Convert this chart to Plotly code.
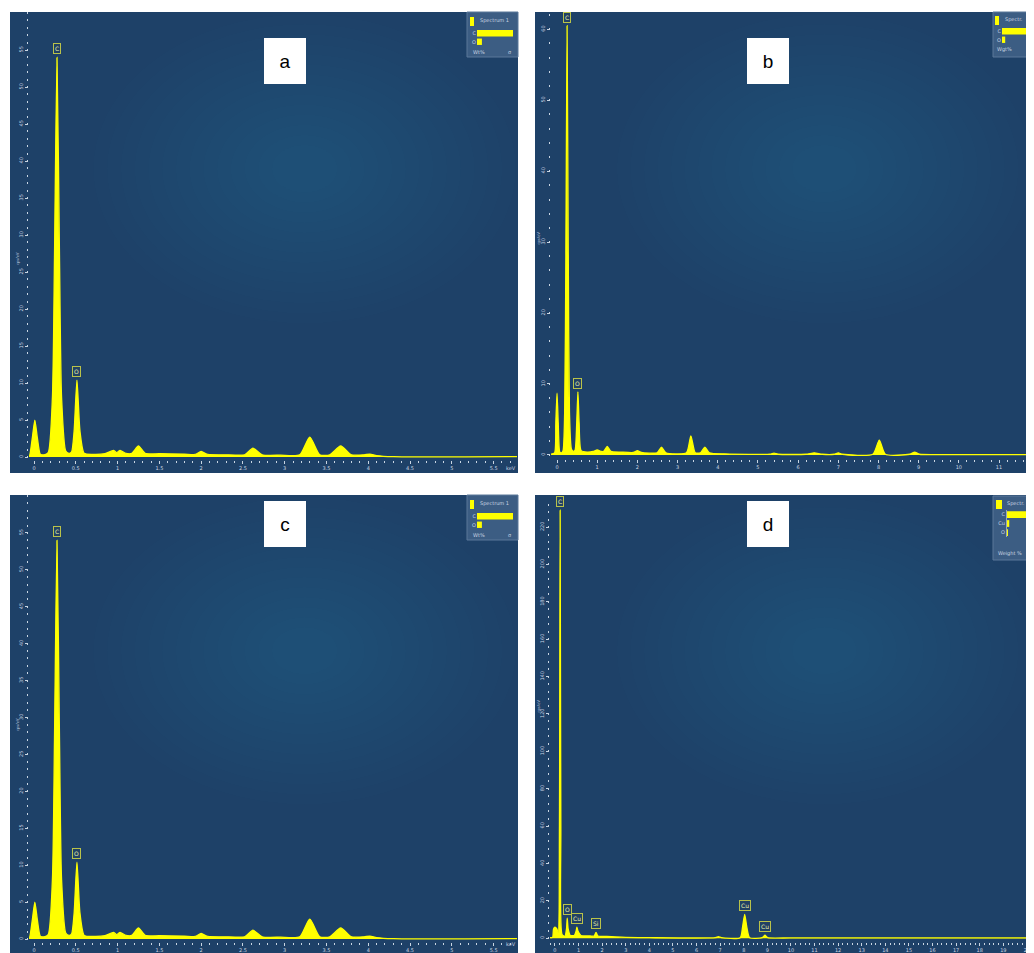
import plotly.graph_objects as go

# page offset (body margin) is 8 px; figure size chosen so page fills 1034x953
OFF = 8
W, H = 1034 - OFF, 953 - OFF

# ---------------- data ----------------
# Spectrum a  (keV, cps/eV)
a_keV = [-0.06, -0.05, -0.02, 0.01, 0.04, 0.075, 0.12, 0.17, 0.22, 0.245, 0.275, 0.305, 0.33, 0.38,
         0.42, 0.45, 0.48, 0.514, 0.55, 0.6, 0.7, 0.85, 0.95, 0.99, 1.03, 1.1, 1.17, 1.25, 1.33,
         1.5, 1.8, 1.93, 2.0, 2.08, 2.3, 2.52, 2.62, 2.73, 2.95, 3.18, 3.3, 3.42, 3.54, 3.67, 3.8,
         3.95, 4.02, 4.1, 4.3, 5.78]
a_cps = [0.1, 0.3, 2.6, 5.0, 2.6, 0.4, 0.3, 0.6, 8.0, 27.0, 54.0, 27.0, 8.0, 0.8,
         0.5, 0.7, 3.5, 10.4, 3.5, 0.5, 0.35, 0.45, 0.9, 0.6, 0.9, 0.5, 0.5, 1.5, 0.5,
         0.45, 0.4, 0.35, 0.75, 0.35, 0.3, 0.3, 1.2, 0.3, 0.25, 0.3, 2.7, 0.3, 0.3, 1.5, 0.3,
         0.3, 0.4, 0.2, 0.05, 0.05]

# Spectrum c (nearly identical to a)
c_keV = [-0.06, -0.05, -0.02, 0.01, 0.04, 0.075, 0.12, 0.17, 0.22, 0.245, 0.275, 0.305, 0.33, 0.38,
         0.42, 0.45, 0.48, 0.514, 0.55, 0.6, 0.7, 0.85, 0.95, 0.99, 1.03, 1.1, 1.17, 1.25, 1.33,
         1.5, 1.8, 1.93, 2.0, 2.08, 2.3, 2.52, 2.62, 2.73, 2.95, 3.18, 3.3, 3.42, 3.54, 3.67, 3.8,
         3.95, 4.02, 4.1, 4.3, 5.78]
c_cps = [0.1, 0.3, 2.6, 5.0, 2.6, 0.4, 0.3, 0.6, 8.0, 27.0, 54.0, 27.0, 8.0, 0.8,
         0.5, 0.7, 3.5, 10.4, 3.5, 0.5, 0.35, 0.45, 0.9, 0.6, 0.9, 0.5, 0.5, 1.5, 0.5,
         0.45, 0.4, 0.35, 0.75, 0.35, 0.3, 0.3, 1.2, 0.3, 0.25, 0.3, 2.7, 0.3, 0.3, 1.5, 0.3,
         0.3, 0.4, 0.2, 0.05, 0.05]

# Spectrum b
b_keV = [-0.15, -0.06, -0.03, 0.0, 0.03, 0.07, 0.11, 0.15, 0.19, 0.22, 0.25, 0.28, 0.31, 0.36,
         0.41, 0.45, 0.49, 0.52, 0.55, 0.6, 0.75, 0.9, 1.0, 1.1, 1.16, 1.25, 1.34, 1.6, 1.9,
         2.0, 2.1, 2.49, 2.6, 2.71, 3.22, 3.33, 3.44, 3.57, 3.68, 3.79, 4.2, 5.3, 5.4, 5.5,
         6.2, 6.4, 6.6, 6.9, 7.0, 7.1, 7.86, 8.02, 8.17, 8.78, 8.9, 9.02, 9.5, 11.87]
b_cps = [0.1, 0.3, 4.5, 8.7, 4.5, 0.4, 0.3, 0.6, 6.0, 28.0, 60.5, 28.0, 6.0, 0.8,
         0.5, 0.7, 4.5, 8.9, 4.5, 0.6, 0.4, 0.5, 0.7, 0.5, 0.5, 1.2, 0.5, 0.4, 0.35,
         0.6, 0.35, 0.3, 1.1, 0.3, 0.3, 2.7, 0.3, 0.3, 1.1, 0.3, 0.15, 0.1, 0.25, 0.1,
         0.1, 0.3, 0.1, 0.1, 0.3, 0.1, 0.1, 2.1, 0.1, 0.1, 0.4, 0.1, 0.05, 0.05]

# Spectrum d
d_keV = [-0.21, -0.1, -0.06, 0.0, 0.08, 0.14, 0.19, 0.22, 0.25, 0.3, 0.42, 0.49, 0.52, 0.56,
         0.65, 0.82, 0.9, 0.93, 0.97, 1.1, 1.5, 1.66, 1.74, 1.82, 2.2, 2.6, 3.0, 4.0, 6.8,
         6.93, 7.05, 7.85, 7.95, 8.04, 8.13, 8.25, 8.78, 8.9, 9.02, 10.0, 20.3]
d_cps = [0.3, 0.5, 5.0, 6.0, 5.0, 3.0, 60.0, 229.0, 60.0, 2.0, 1.0, 5.0, 10.7, 5.0,
         1.5, 1.5, 4.0, 5.9, 4.0, 1.5, 1.2, 1.2, 3.2, 1.2, 1.0, 0.7, 0.5, 0.3, 0.3,
         0.8, 0.3, 0.3, 6.0, 12.8, 6.0, 0.3, 0.3, 1.6, 0.3, 0.2, 0.2]

# peak labels
a_peak_names = ["C", "O"]
a_peak_keV = [0.275, 0.514]
a_peak_cps = [54.0, 10.4]
b_peak_names = ["C", "O"]
b_peak_keV = [0.25, 0.52]
b_peak_cps = [60.5, 8.9]
c_peak_names = ["C", "O"]
c_peak_keV = [0.275, 0.514]
c_peak_cps = [54.0, 10.4]
d_peak_names = ["C", "O", "Cu", "Si", "Cu", "Cu"]
d_peak_keV = [0.22, 0.52, 0.93, 1.74, 8.04, 8.9]
d_peak_cps = [229.0, 10.7, 5.9, 3.2, 12.8, 1.6]

# axis ticks
a_x_ticks = [0, 0.5, 1, 1.5, 2, 2.5, 3, 3.5, 4, 4.5, 5, 5.5]
a_x_labels = ["0", "0.5", "1", "1.5", "2", "2.5", "3", "3.5", "4", "4.5", "5", "5.5"]
a_y_ticks = [0, 5, 10, 15, 20, 25, 30, 35, 40, 45, 50, 55]
b_x_ticks = [0, 1, 2, 3, 4, 5, 6, 7, 8, 9, 10, 11]
b_x_labels = ["0", "1", "2", "3", "4", "5", "6", "7", "8", "9", "10", "11"]
b_y_ticks = [0, 10, 20, 30, 40, 50, 60]
d_x_ticks = list(range(0, 21))
d_x_labels = [str(v) for v in d_x_ticks]
d_y_ticks = [0, 20, 40, 60, 80, 100, 120, 140, 160, 180, 200, 220]

# inset weight-% bars
inset_a_elements = ["C", "O"]
inset_a_wt = [88, 12]
inset_b_elements = ["C", "O"]
inset_b_wt = [90, 6]
inset_c_elements = ["C", "O"]
inset_c_wt = [88, 12]
inset_d_elements = ["C", "Cu", "O"]
inset_d_wt = [92, 5, 2]

panel_letters = ["a", "b", "c", "d"]

# ---------------- helpers (page pixels -> paper fraction) ----------------
def fx(p):
    return (p - OFF) / W


def fy(p):
    return 1 - (p - OFF) / H


YELLOW = "#ffff00"
TICKC = "#c9d5e2"
PANEL_BG = "#1e4168"

fig = go.Figure()

spectra = [
    dict(x=a_keV, y=a_cps, n=a_peak_names, px=a_peak_keV, py=a_peak_cps,
         xd=(29, 517), yd=(13, 460), xr=[-0.06, 5.78], yr=[-0.4, 60],
         xt=a_x_ticks, xl=a_x_labels, yt=a_y_ticks, xminor=0.1, yminor=1),
    dict(x=b_keV, y=b_cps, n=b_peak_names, px=b_peak_keV, py=b_peak_cps,
         xd=(551, 1034), yd=(15, 458.5), xr=[-0.15, 11.87], yr=[-0.5, 62],
         xt=b_x_ticks, xl=b_x_labels, yt=b_y_ticks, xminor=0.2, yminor=2),
    dict(x=c_keV, y=c_cps, n=c_peak_names, px=c_peak_keV, py=c_peak_cps,
         xd=(29, 517), yd=(496, 942), xr=[-0.06, 5.78], yr=[-0.4, 60],
         xt=a_x_ticks, xl=a_x_labels, yt=a_y_ticks, xminor=0.1, yminor=1),
    dict(x=d_keV, y=d_cps, n=d_peak_names, px=d_peak_keV, py=d_peak_cps,
         xd=(550, 1034), yd=(499, 942), xr=[-0.21, 20.3], yr=[-2, 235],
         xt=d_x_ticks, xl=d_x_labels, yt=d_y_ticks, xminor=0.2, yminor=4),
]

layout_axes = {}
annotations = []
for i, s in enumerate(spectra, start=1):
    xa = "x" if i == 1 else f"x{i}"
    ya = "y" if i == 1 else f"y{i}"
    fig.add_trace(go.Scatter(
        x=s["x"], y=s["y"], mode="lines", xaxis=xa, yaxis=ya,
        line=dict(color=YELLOW, width=1.3, shape="spline", smoothing=0.6),
        fill="tozeroy", fillcolor=YELLOW, hoverinfo="skip", showlegend=False))
    layout_axes[f"xaxis{i}"] = dict(
        domain=[fx(s["xd"][0]), fx(s["xd"][1])], range=s["xr"], anchor=ya,
        tickvals=s["xt"], ticktext=s["xl"], ticks="outside", ticklen=3, tickwidth=1,
        tickcolor=TICKC, tickfont=dict(size=5, color=TICKC, family="DejaVu Sans"),
        showgrid=False, zeroline=False, showline=False,
        minor=dict(dtick=s["xminor"], ticks="outside", ticklen=2, tickcolor=TICKC, showgrid=False))
    layout_axes[f"yaxis{i}"] = dict(
        domain=[fy(s["yd"][1]), fy(s["yd"][0])], range=s["yr"], anchor=xa,
        tickvals=s["yt"], ticks="outside", ticklen=3, tickwidth=1, tickangle=-90,
        tickcolor=TICKC, tickfont=dict(size=5, color=TICKC, family="DejaVu Sans"),
        showgrid=False, zeroline=False, showline=False,
        minor=dict(dtick=s["yminor"], ticks="outside", ticklen=1.5, tickwidth=1.5,
                   tickcolor=TICKC, showgrid=False))
    for name, kx, ky in zip(s["n"], s["px"], s["py"]):
        annotations.append(dict(
            x=kx, y=ky, xref=xa, yref=ya, text=name, showarrow=False,
            yanchor="bottom", yshift=3,
            font=dict(size=6, color="#e9f1a8", family="DejaVu Sans"),
            bordercolor="#b9c24a", borderwidth=1, borderpad=1,
            bgcolor="rgba(35,66,100,0.85)"))

# insets (weight-% bars)
insets = [
    dict(el=inset_a_elements, wt=inset_a_wt, xd=(477, 513), yd=(29, 46), xr=[0, 88], line=False),
    dict(el=inset_b_elements, wt=inset_b_wt, xd=(1002, 1034), yd=(27, 44), xr=[0, 60], line=False),
    dict(el=inset_c_elements, wt=inset_c_wt, xd=(477, 513), yd=(512, 529), xr=[0, 88], line=False),
    dict(el=inset_d_elements, wt=inset_d_wt, xd=(1007, 1034), yd=(510, 537), xr=[0, 60], line=True),
]
for j, ins in enumerate(insets, start=5):
    xa, ya = f"x{j}", f"y{j}"
    n = len(ins["el"])
    fig.add_trace(go.Bar(
        x=ins["wt"], y=ins["el"], orientation="h", xaxis=xa, yaxis=ya,
        marker=dict(color=YELLOW, line=dict(width=0)), width=0.75,
        hoverinfo="skip", showlegend=False))
    layout_axes[f"xaxis{j}"] = dict(
        domain=[fx(ins["xd"][0]), fx(ins["xd"][1])], range=ins["xr"], anchor=ya,
        visible=False, fixedrange=True)
    layout_axes[f"yaxis{j}"] = dict(
        domain=[fy(ins["yd"][1]), fy(ins["yd"][0])], anchor=xa, type="category",
        range=[n - 0.5, -0.5], showgrid=False, zeroline=False,
        showline=ins["line"], linecolor="#9aa9b8", linewidth=1,
        ticks="", tickfont=dict(size=5, color=TICKC, family="DejaVu Sans"))

# ---------------- shapes: panel backgrounds ----------------
panels = [(10, 12, 518, 473), (535, 12, 1034, 473), (10, 495, 518, 953), (535, 495, 1034, 953)]
shapes = []
for (x0, y0, x1, y1) in panels:
    shapes.append(dict(type="rect", xref="paper", yref="paper", x0=fx(x0), x1=fx(x1),
                       y0=fy(y1), y1=fy(y0), fillcolor=PANEL_BG, line=dict(width=0), layer="below"))
    cx = x0 + 0.58 * (x1 - x0)
    cy = y0 + 0.34 * (y1 - y0)
    rx0 = min(cx - x0, x1 - cx) - 2
    ry0 = min(cy - y0, y1 - cy) - 2
    for k in range(14):
        f = 1 - k * 0.065
        shapes.append(dict(type="circle", xref="paper", yref="paper",
                           x0=fx(cx - rx0 * f), x1=fx(cx + rx0 * f),
                           y0=fy(cy + ry0 * f), y1=fy(cy - ry0 * f),
                           fillcolor="rgba(170,205,240,0.008)", line=dict(width=0), layer="below"))

# inset boxes
inset_boxes = [(467, 12, 518, 57), (993, 12, 1034, 57), (467, 495, 518, 540), (993, 496, 1034, 560)]
for (x0, y0, x1, y1) in inset_boxes:
    shapes.append(dict(type="rect", xref="paper", yref="paper", x0=fx(x0), x1=fx(x1),
                       y0=fy(y1), y1=fy(y0), fillcolor="#3c5d83",
                       line=dict(width=1, color="#5b7899"), layer="below"))
# small yellow legend swatches
swatches = [(470, 17, 474, 26), (995, 16, 999, 25), (470, 500, 474, 509), (996, 500, 1002, 509)]
for (x0, y0, x1, y1) in swatches:
    shapes.append(dict(type="rect", xref="paper", yref="paper", x0=fx(x0), x1=fx(x1),
                       y0=fy(y1), y1=fy(y0), fillcolor=YELLOW, line=dict(width=0), layer="below"))

# ---------------- text annotations ----------------
small = dict(size=5, color=TICKC, family="DejaVu Sans")
inset_texts = [
    ("Spectrum 1", 478, 21, "left"), ("Wt%", 471, 52, "left"), ("σ", 514, 52, "right"),
    ("Spectr.", 1003, 20, "left"), ("Wgt%", 995, 50, "left"), ("σ", 1032, 50, "right"),
    ("Spectrum 1", 478, 504, "left"), ("Wt%", 471, 535, "left"), ("σ", 514, 535, "right"),
    ("Spectr.", 1005, 504, "left"), ("Weight %", 996, 553, "left"),
]
for t, x, y, al in inset_texts:
    annotations.append(dict(text=t, x=fx(x), y=fy(y), xref="paper", yref="paper",
                            xanchor=al, yanchor="middle", showarrow=False, font=small))

# axis titles and keV labels
for t, x, y in [("cps/eV", 13, 250), ("cps/eV", 538, 230), ("cps/eV", 13, 733), ("cps/eV", 538, 715)]:
    annotations.append(dict(text=t, x=fx(x), y=fy(y), xref="paper", yref="paper",
                            textangle=-90, showarrow=False, font=dict(size=4, color=TICKC)))
for x, y in [(511, 468), (511, 949)]:
    annotations.append(dict(text="keV", x=fx(x), y=fy(y), xref="paper", yref="paper",
                            showarrow=False, font=small))

# panel letters
letter_pos = [(264, 38.5), (789, 38.5), (264, 523.5), (789, 523.5)]
for letter, (x, y) in zip(panel_letters, letter_pos):
    annotations.append(dict(text=letter, x=fx(x), y=fy(y), xref="paper", yref="paper",
                            showarrow=False, bgcolor="white", width=42, height=46,
                            borderpad=0, borderwidth=0,
                            font=dict(size=19, color="black", family="Liberation Sans")))

fig.update_layout(
    width=W, height=H, margin=dict(l=0, r=0, t=0, b=0),
    paper_bgcolor="white", plot_bgcolor="rgba(0,0,0,0)",
    showlegend=False, shapes=shapes, annotations=annotations, bargap=0.2,
    **layout_axes)

fig.write_html("out.html")
